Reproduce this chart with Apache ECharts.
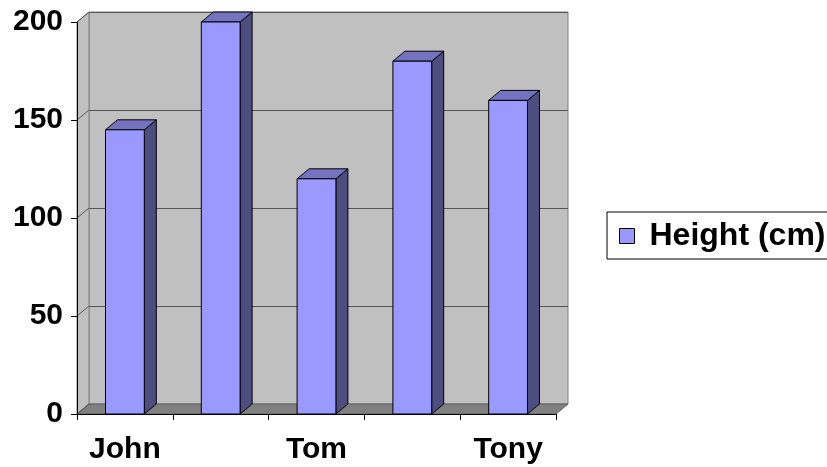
<!DOCTYPE html>
<html>
<head>
<meta charset="utf-8">
<script src="https://cdn.jsdelivr.net/npm/echarts@6/dist/echarts.min.js"></script>
<style>
html,body{margin:0;padding:0;background:#fff;}
#chart{width:827px;height:467px;}
</style>
</head>
<body>
<div id="chart"></div>
<script>
// ---- data ----
const categories = ['John', 'Mary', 'Tom', 'Jack', 'Tony'];
const heights = [145, 200, 120, 180, 160];
const seriesName = 'Height (cm)';
const yMin = 0, yMax = 200, yInterval = 50;
const yTicks = [0, 50, 100, 150, 200];

// ---- style constants ----
const DX = 12, DY = -10;
const FONT = '"Liberation Sans", Arial, sans-serif';
const FRONT = '#9999ff', TOP = '#7373bf', SIDE = '#4d4d80';

const chart = echarts.init(document.getElementById('chart'));

function wallsItem(params, api) {
  const cs = params.coordSys;
  const x0 = cs.x, x1 = cs.x + cs.width, yT = cs.y, yB = cs.y + cs.height;
  const children = [];
  children.push({
    type: 'polygon',
    shape: { points: [[x0, yB], [x0, yT], [x0 + DX, yT + DY], [x0 + DX, yB + DY]] },
    style: { fill: '#c0c0c0', stroke: '#808080', lineWidth: 1 }
  });
  children.push({
    type: 'polygon',
    shape: { points: [[x0, yB], [x1, yB], [x1 + DX, yB + DY], [x0 + DX, yB + DY]] },
    style: { fill: '#808080', stroke: '#606060', lineWidth: 1 }
  });
  yTicks.forEach(function (v) {
    const y = api.coord([0, v])[1];
    children.push({
      type: 'line',
      shape: { x1: x0, y1: y, x2: x0 + DX, y2: y + DY },
      style: { stroke: '#555555', lineWidth: 1 }
    });
  });
  return { type: 'group', children: children };
}

function barItem(params, api) {
  const c = api.coord([api.value(0), api.value(1)]);
  const b = api.coord([api.value(0), 0]);
  const bw = api.size([1, 0])[0] * 0.405;
  const x0 = c[0] - bw / 2, x1 = c[0] + bw / 2, yT = c[1], yB = b[1];
  return {
    type: 'group',
    children: [
      { type: 'polygon', shape: { points: [[x1, yT], [x1 + DX, yT + DY], [x1 + DX, yB + DY], [x1, yB]] },
        style: { fill: SIDE, stroke: '#000', lineWidth: 1 } },
      { type: 'polygon', shape: { points: [[x0, yT], [x1, yT], [x1 + DX, yT + DY], [x0 + DX, yT + DY]] },
        style: { fill: TOP, stroke: '#000', lineWidth: 1 } },
      { type: 'rect', shape: { x: x0, y: yT, width: bw, height: yB - yT },
        style: { fill: FRONT, stroke: '#000', lineWidth: 1 } }
    ]
  };
}

chart.setOption({
  animation: false,
  backgroundColor: '#fff',
  grid: [
    { left: 77, top: 22, width: 479, height: 392 },
    { left: 77 + DX, top: 22 + DY, width: 479, height: 392, show: true,
      backgroundColor: '#c0c0c0', borderColor: '#808080', borderWidth: 1 }
  ],
  xAxis: [
    { type: 'category', gridIndex: 0, data: categories, z: 10,
      axisLine: { show: true, lineStyle: { color: '#000', width: 1 } },
      axisTick: { show: true, interval: 0, length: 6, lineStyle: { color: '#000' } },
      axisLabel: { interval: 1, margin: 21, fontSize: 30, fontWeight: 'bold', color: '#000', fontFamily: FONT },
      splitLine: { show: false } },
    { type: 'category', gridIndex: 1, data: categories, show: false }
  ],
  yAxis: [
    { type: 'value', gridIndex: 0, min: yMin, max: yMax, interval: yInterval, z: 10,
      axisLine: { show: true, lineStyle: { color: '#000', width: 1 } },
      axisTick: { show: true, length: 6, lineStyle: { color: '#000' } },
      axisLabel: { margin: 14, fontSize: 30, fontWeight: 'bold', color: '#000', fontFamily: FONT },
      splitLine: { show: false } },
    { type: 'value', gridIndex: 1, min: yMin, max: yMax, interval: yInterval,
      axisLine: { show: false }, axisTick: { show: false }, axisLabel: { show: false },
      splitLine: { show: true, lineStyle: { color: '#555555', width: 1 } } }
  ],
  legend: {
    left: 607, top: 212,
    orient: 'vertical',
    data: [seriesName],
    icon: 'rect',
    itemWidth: 15, itemHeight: 15,
    itemStyle: { borderColor: '#000', borderWidth: 1 },
    backgroundColor: '#fff',
    borderColor: '#000', borderWidth: 1, borderRadius: 0,
    padding: [8, 10, 7, 12],
    textStyle: { fontSize: 32, fontWeight: 'bold', color: '#000', fontFamily: FONT,
      lineHeight: 29, padding: [0, 0, 0, 10] }
  },
  series: [
    { type: 'custom', name: '__walls', xAxisIndex: 0, yAxisIndex: 0, z: 1, silent: true,
      renderItem: wallsItem, data: [[0, 0]] },
    { type: 'custom', name: seriesName, xAxisIndex: 0, yAxisIndex: 0, z: 2,
      itemStyle: { color: FRONT },
      renderItem: barItem,
      data: heights.map(function (v, i) { return [i, v]; }) }
  ]
});
</script>
</body>
</html>
